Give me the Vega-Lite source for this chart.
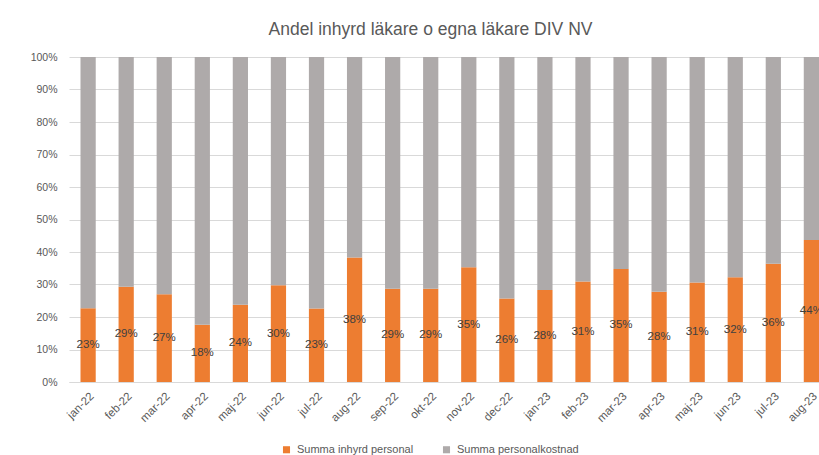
{
  "$schema": "https://vega.github.io/schema/vega-lite/v6.json",
  "autosize": {"type": "none"},
  "padding": {"left": 69, "top": 57, "right": 0, "bottom": 73},
  "width": 750,
  "height": 325,
  "background": "white",
  "title": {"text": "Andel inhyrd läkare o egna läkare DIV NV", "font": "Liberation Sans", "fontSize": 17.5, "fontWeight": "normal", "color": "#595959", "anchor": "middle", "offset": 14, "dx": -13.5},
  "data": {"values": [
    {"month": "jan-22", "serie": "Summa  inhyrd personal", "v": 0.227, "ord": 1},
    {"month": "jan-22", "serie": "Summa  personalkostnad", "v": 0.773, "ord": 2},
    {"month": "feb-22", "serie": "Summa  inhyrd personal", "v": 0.293, "ord": 1},
    {"month": "feb-22", "serie": "Summa  personalkostnad", "v": 0.707, "ord": 2},
    {"month": "mar-22", "serie": "Summa  inhyrd personal", "v": 0.27, "ord": 1},
    {"month": "mar-22", "serie": "Summa  personalkostnad", "v": 0.73, "ord": 2},
    {"month": "apr-22", "serie": "Summa  inhyrd personal", "v": 0.176, "ord": 1},
    {"month": "apr-22", "serie": "Summa  personalkostnad", "v": 0.824, "ord": 2},
    {"month": "maj-22", "serie": "Summa  inhyrd personal", "v": 0.238, "ord": 1},
    {"month": "maj-22", "serie": "Summa  personalkostnad", "v": 0.762, "ord": 2},
    {"month": "jun-22", "serie": "Summa  inhyrd personal", "v": 0.298, "ord": 1},
    {"month": "jun-22", "serie": "Summa  personalkostnad", "v": 0.702, "ord": 2},
    {"month": "jul-22", "serie": "Summa  inhyrd personal", "v": 0.226, "ord": 1},
    {"month": "jul-22", "serie": "Summa  personalkostnad", "v": 0.774, "ord": 2},
    {"month": "aug-22", "serie": "Summa  inhyrd personal", "v": 0.383, "ord": 1},
    {"month": "aug-22", "serie": "Summa  personalkostnad", "v": 0.617, "ord": 2},
    {"month": "sep-22", "serie": "Summa  inhyrd personal", "v": 0.287, "ord": 1},
    {"month": "sep-22", "serie": "Summa  personalkostnad", "v": 0.713, "ord": 2},
    {"month": "okt-22", "serie": "Summa  inhyrd personal", "v": 0.287, "ord": 1},
    {"month": "okt-22", "serie": "Summa  personalkostnad", "v": 0.713, "ord": 2},
    {"month": "nov-22", "serie": "Summa  inhyrd personal", "v": 0.353, "ord": 1},
    {"month": "nov-22", "serie": "Summa  personalkostnad", "v": 0.647, "ord": 2},
    {"month": "dec-22", "serie": "Summa  inhyrd personal", "v": 0.257, "ord": 1},
    {"month": "dec-22", "serie": "Summa  personalkostnad", "v": 0.743, "ord": 2},
    {"month": "jan-23", "serie": "Summa  inhyrd personal", "v": 0.283, "ord": 1},
    {"month": "jan-23", "serie": "Summa  personalkostnad", "v": 0.717, "ord": 2},
    {"month": "feb-23", "serie": "Summa  inhyrd personal", "v": 0.309, "ord": 1},
    {"month": "feb-23", "serie": "Summa  personalkostnad", "v": 0.691, "ord": 2},
    {"month": "mar-23", "serie": "Summa  inhyrd personal", "v": 0.348, "ord": 1},
    {"month": "mar-23", "serie": "Summa  personalkostnad", "v": 0.652, "ord": 2},
    {"month": "apr-23", "serie": "Summa  inhyrd personal", "v": 0.278, "ord": 1},
    {"month": "apr-23", "serie": "Summa  personalkostnad", "v": 0.722, "ord": 2},
    {"month": "maj-23", "serie": "Summa  inhyrd personal", "v": 0.306, "ord": 1},
    {"month": "maj-23", "serie": "Summa  personalkostnad", "v": 0.694, "ord": 2},
    {"month": "jun-23", "serie": "Summa  inhyrd personal", "v": 0.322, "ord": 1},
    {"month": "jun-23", "serie": "Summa  personalkostnad", "v": 0.678, "ord": 2},
    {"month": "jul-23", "serie": "Summa  inhyrd personal", "v": 0.364, "ord": 1},
    {"month": "jul-23", "serie": "Summa  personalkostnad", "v": 0.636, "ord": 2},
    {"month": "aug-23", "serie": "Summa  inhyrd personal", "v": 0.437, "ord": 1},
    {"month": "aug-23", "serie": "Summa  personalkostnad", "v": 0.563, "ord": 2}
  ]},
  "encoding": {
    "x": {
      "field": "month", "type": "nominal", "sort": null,
      "scale": {"paddingInner": 0.6, "paddingOuter": 0.151, "align": 1},
      "axis": {"title": null, "labelAngle": -45, "labelFont": "Liberation Sans", "labelFontSize": 11.5, "labelColor": "#595959", "ticks": false, "domain": true, "domainColor": "#d9d9d9", "labelPadding": 8}
    }
  },
  "layer": [
    {
      "mark": {"type": "bar"},
      "encoding": {
        "y": {"field": "v", "type": "quantitative", "stack": "zero",
          "scale": {"domain": [0, 1]},
          "axis": {"title": null, "format": ".0%", "values": [0,0.1,0.2,0.3,0.4,0.5,0.6,0.7,0.8,0.9,1], "labelFont": "Liberation Sans", "labelFontSize": 10.5, "labelColor": "#595959", "ticks": false, "domain": false, "gridColor": "#d9d9d9", "labelPadding": 12}},
        "order": {"field": "ord", "type": "quantitative"},
        "color": {"field": "serie", "type": "nominal",
          "scale": {"domain": ["Summa  inhyrd personal", "Summa  personalkostnad"], "range": ["#ED7D31", "#AEAAAA"]},
          "legend": {"title": null, "orient": "none", "legendX": 212, "legendY": 387, "padding": 0, "direction": "horizontal", "symbolType": "square", "symbolSize": 50, "symbolStrokeWidth": 0, "labelFont": "Liberation Sans", "labelFontSize": 11, "labelColor": "#595959", "columnPadding": 24, "labelOffset": 5}}
      }
    },
    {
      "transform": [{"filter": "datum.ord == 1"}],
      "mark": {"type": "text", "font": "Liberation Sans", "fontSize": 11.5, "color": "#404040", "baseline": "middle"},
      "encoding": {
        "y": {"field": "v", "type": "quantitative", "scale": {"domain": [0, 2]}, "axis": null},
        "text": {"field": "v", "type": "quantitative", "format": ".0%"}
      }
    }
  ],
  "resolve": {"scale": {"y": "independent"}},
  "config": {"view": {"stroke": null}}
}
